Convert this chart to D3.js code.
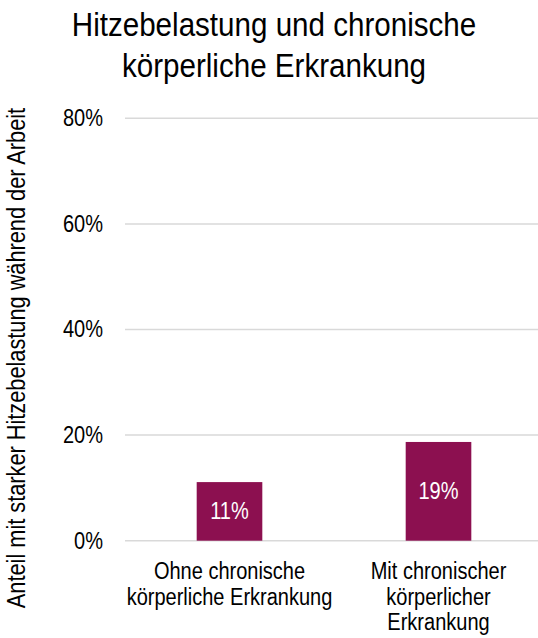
<!DOCTYPE html>
<html><head><meta charset="utf-8">
<script src="https://cdn.jsdelivr.net/npm/d3@7"></script>
<style>body{margin:0;background:#fff}svg{display:block}text{font-family:"Liberation Sans",Arial,sans-serif;fill:#000}</style>
</head><body><div id="c"></div>
<script>
const titleLines = ["Hitzebelastung und chronische", "körperliche Erkrankung"];
const categories = ["Ohne chronische körperliche Erkrankung", "Mit chronischer körperlicher Erkrankung"];
const categoryLines = [["Ohne chronische", "körperliche Erkrankung"], ["Mit chronischer", "körperlicher", "Erkrankung"]];
const values = [11.1, 18.7];
const valueLabels = ["11%", "19%"];
const yTicks = [0, 20, 40, 60, 80];
const yTickLabels = ["0%", "20%", "40%", "60%", "80%"];
const yAxisTitle = "Anteil mit starker Hitzebelastung während der Arbeit";

const W = 538, H = 638;
const K = 0.87; // horizontal condensing of the narrow type
const svg = d3.select("#c").append("svg").attr("width", W).attr("height", H);

const x = d3.scaleBand().domain(categories).range([125, 543]).paddingInner(0).paddingOuter(0);
const y = d3.scaleLinear().domain([0, 80]).range([540.7, 118.3]);
const barW = x.bandwidth() * 0.314;

function ctext(parent, tx, ty, str, size, anchor, fill, dy) {
  const g = parent.append("g").attr("transform", `translate(${tx},${ty}) scale(${K},1)`);
  g.append("text").attr("text-anchor", anchor).attr("dy", dy || null)
    .style("font-size", size + "px").style("fill", fill || "#000").text(str);
  return g;
}

// title
titleLines.forEach((t, i) => ctext(svg, 274, 36 + i * 41, t, 34, "middle"));

// gridlines
svg.append("g").selectAll("line").data(yTicks).join("line")
  .attr("x1", 125).attr("x2", 538)
  .attr("y1", d => y(d)).attr("y2", d => y(d))
  .attr("stroke", "#d9d9d9").attr("stroke-width", 1.5);

// y axis tick labels (via d3 axis, then condensed)
const yAxis = d3.axisLeft(y).tickValues(yTicks).tickFormat((d, i) => yTickLabels[i]).tickSize(0).tickPadding(0);
const ya = svg.append("g").attr("transform", "translate(103,0)").call(yAxis);
ya.select(".domain").remove();
ya.selectAll(".tick text").attr("font-family", null).attr("fill", "#000")
  .style("font-size", "23px").attr("transform", `scale(${K},1)`);

// y axis title
const yt = svg.append("g").attr("transform", "translate(25,358) rotate(-90)");
ctext(yt, 0, 0, yAxisTitle, 25, "middle");

// bars
svg.append("g").selectAll("rect").data(values).join("rect")
  .attr("x", (d, i) => x(categories[i]) + x.bandwidth() / 2 - barW / 2)
  .attr("width", barW)
  .attr("y", d => y(d)).attr("height", d => y(0) - y(d))
  .attr("fill", "#8c1050");

// value labels
values.forEach((v, i) => ctext(svg, x(categories[i]) + x.bandwidth() / 2, (y(v) + y(0)) / 2,
  valueLabels[i], 23, "middle", "#fff", "0.35em"));

// category labels
categories.forEach((c, i) => {
  categoryLines[i].forEach((t, j) => ctext(svg, x(c) + x.bandwidth() / 2, 579 + j * 25.5, t, 23, "middle"));
});
</script></body></html>
